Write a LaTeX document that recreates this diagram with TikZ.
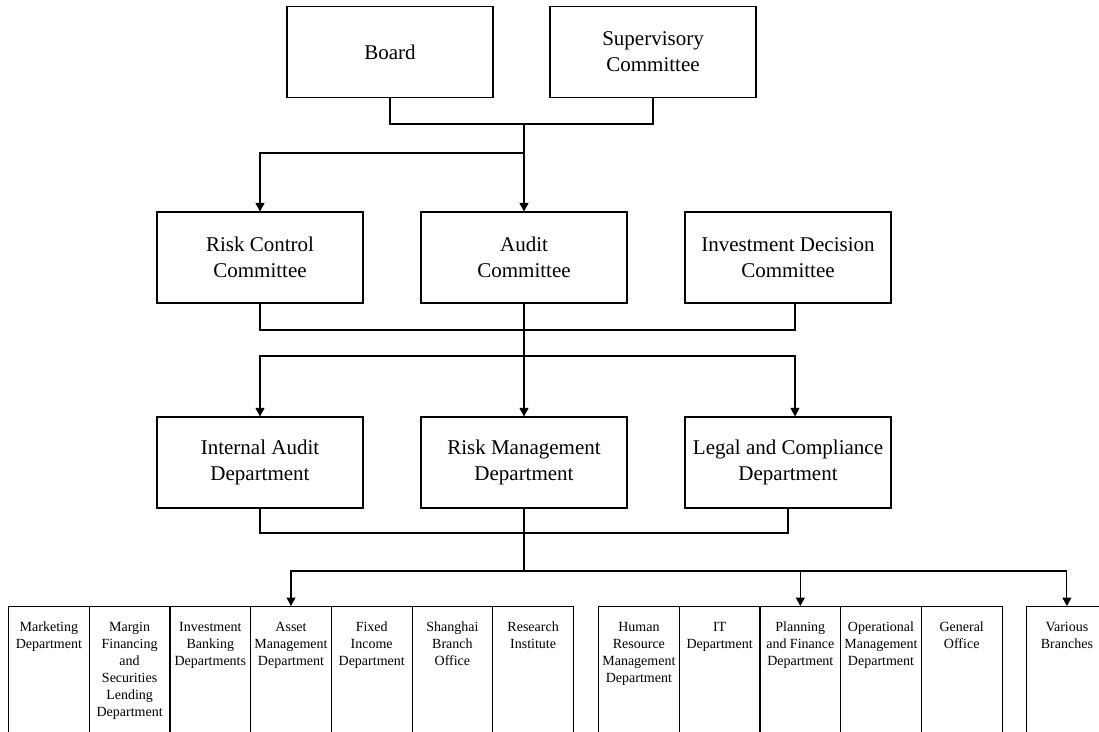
\documentclass[tikz,border=0pt]{standalone}
\usepackage{fontspec}
\setmainfont{Liberation Serif}
\usetikzlibrary{arrows.meta,calc}
\tikzset{
  box/.style={draw, line width=1.1pt, minimum width=206pt, minimum height=91pt, inner sep=2pt, align=center, font=\fontsize{21}{26}\selectfont},
  cell/.style={draw, line width=1.1pt, anchor=north west, inner sep=0pt},
  conn/.style={line width=1.1pt},
  arr/.style={conn, -{Triangle[length=8.5pt,width=9pt]}},
}
\newcommand{\celltxt}[1]{\begin{minipage}[t][140pt][t]{80.7pt}\centering\fontsize{14}{17.1}\selectfont\vspace*{12.5pt}\strut#1\end{minipage}}
\begin{document}
\begin{tikzpicture}[x=1pt,y=-1pt]
\useasboundingbox (0,0) rectangle (1099,731);
\clip (0,0) rectangle (1099,731);
% top row
\node[box] (board) at (390,52) {Board};
\node[box] (sup) at (653,52) {Supervisory\\Committee};
% second row
\node[box] (risk) at (260,257.5) {Risk Control\\Committee};
\node[box] (audit) at (524,257.5) {Audit\\Committee};
\node[box] (inv) at (788,257.5) {Investment Decision\\Committee};
% third row
\node[box] (iad) at (260,462.5) {Internal Audit\\Department};
\node[box] (rmd) at (524,462.5) {Risk Management\\Department};
\node[box] (legal) at (788,462.5) {Legal and Compliance\\Department};
% bottom cells, group 1
\node[cell] (c1) at (8,606) {\celltxt{Marketing\\Department}};
\node[cell] (c2) at (88.7,606) {\celltxt{Margin\\Financing\\and\\Securities\\Lending\\Department}};
\node[cell] (c3) at (169.4,606) {\celltxt{Investment\\Banking\\Departments}};
\node[cell] (c4) at (250.1,606) {\celltxt{Asset\\Management\\Department}};
\node[cell] (c5) at (330.8,606) {\celltxt{Fixed\\Income\\Department}};
\node[cell] (c6) at (411.5,606) {\celltxt{Shanghai\\Branch\\Office}};
\node[cell] (c7) at (492.2,606) {\celltxt{Research\\Institute}};
% group 2
\node[cell] (d1) at (598,606) {\celltxt{Human\\Resource\\Management\\Department}};
\node[cell] (d2) at (678.7,606) {\celltxt{IT\\Department}};
\node[cell] (d3) at (759.4,606) {\celltxt{Planning\\and Finance\\Department}};
\node[cell] (d4) at (840.1,606) {\celltxt{Operational\\Management\\Department}};
\node[cell] (d5) at (920.8,606) {\celltxt{General\\Office}};
% group 3
\node[cell] (vb) at (1026,606) {\celltxt{Various\\Branches}};
% junctions
\coordinate (j1) at (524,124);
\coordinate (j2) at (524,153);
\coordinate (j3) at (524,330);
\coordinate (j4) at (524,356);
\coordinate (j5) at (524,533);
\coordinate (j6) at (524,571);
% connectors
\draw[conn] (board.south) |- (j1) -| (sup.south);
\draw[conn] (j1) -- (j2);
\draw[arr] (j2) -| (risk.north);
\draw[arr] (j2) -- (audit.north);
\draw[conn] (risk.south) |- (j3) -| ([xshift=7pt]inv.south);
\draw[conn] (audit.south) -- (j4);
\draw[arr] (j4) -| (iad.north);
\draw[arr] (j4) -- (rmd.north);
\draw[arr] (j4) -| ([xshift=7pt]legal.north);
\draw[conn] (iad.south) |- (j5) -| (legal.south);
\draw[conn] (rmd.south) -- (j6);
\draw[arr] (j6) -| (c4.north);
\draw[arr] (j6) -| (d3.north);
\draw[arr] (j6) -| (vb.north);
\end{tikzpicture}
\end{document}
